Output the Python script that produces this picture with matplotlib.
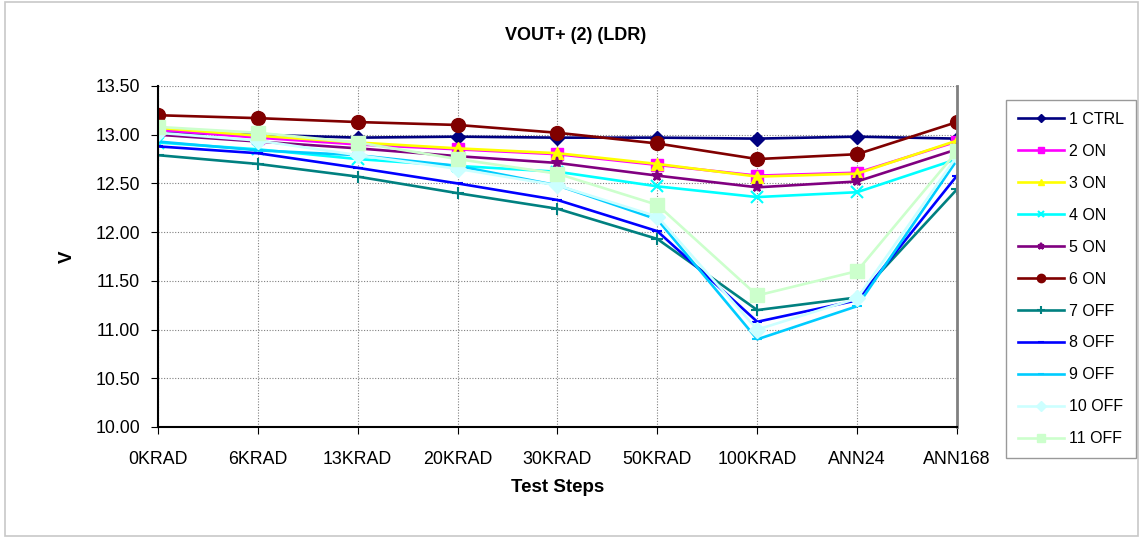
import matplotlib
matplotlib.use("Agg")
import matplotlib.pyplot as plt
from matplotlib.patches import Rectangle

plt.rcParams['font.family'] = ['Liberation Sans', 'DejaVu Sans']

steps = ["0KRAD", "6KRAD", "13KRAD", "20KRAD", "30KRAD", "50KRAD", "100KRAD", "ANN24", "ANN168"]

ctrl1 = [13.02, 13.00, 12.97, 12.98, 12.97, 12.97, 12.96, 12.98, 12.96]
on2 = [13.05, 12.97, 12.90, 12.85, 12.80, 12.69, 12.58, 12.61, 12.93]
on3 = [13.07, 12.99, 12.92, 12.86, 12.81, 12.70, 12.57, 12.60, 12.94]
on4 = [12.92, 12.85, 12.75, 12.68, 12.62, 12.47, 12.36, 12.41, 12.75]
on5 = [13.00, 12.93, 12.86, 12.78, 12.71, 12.58, 12.46, 12.52, 12.85]
on6 = [13.20, 13.17, 13.13, 13.10, 13.02, 12.91, 12.75, 12.80, 13.13]
off7 = [12.79, 12.70, 12.57, 12.40, 12.24, 11.93, 11.20, 11.33, 12.44]
off8 = [12.88, 12.81, 12.66, 12.50, 12.33, 12.01, 11.08, 11.30, 12.58]
off9 = [12.93, 12.84, 12.79, 12.68, 12.48, 12.13, 10.90, 11.24, 12.74]
off10 = [13.02, 12.94, 12.79, 12.65, 12.48, 12.16, 11.00, 11.32, 12.78]
off11 = [13.08, 13.02, 12.92, 12.75, 12.60, 12.28, 11.35, 11.60, 12.83]

series = [
    ("1 CTRL", ctrl1, "#000080", "D", 7),
    ("2 ON", on2, "#FF00FF", "s", 8),
    ("3 ON", on3, "#FFFF00", "^", 8),
    ("4 ON", on4, "#00FFFF", "x", 8),
    ("5 ON", on5, "#800080", "*", 8),
    ("6 ON", on6, "#800000", "o", 10),
    ("7 OFF", off7, "#008080", "+", 9),
    ("8 OFF", off8, "#0000FF", "_", 7),
    ("9 OFF", off9, "#00CCFF", "_", 7),
    ("10 OFF", off10, "#CCFFFF", "D", 8),
    ("11 OFF", off11, "#CCFFCC", "s", 10),
]

fig = plt.figure(figsize=(11.4, 5.38), dpi=100)
fig.patches.append(Rectangle((0.004, 0.004), 0.994, 0.993, transform=fig.transFigure,
                             fill=False, edgecolor="#C8C8C8", linewidth=1.2))

ax = fig.add_axes([158/1140, 1-427/538, (957-158)/1140, (427-86)/538])
x = list(range(len(steps)))
for name, vals, col, mk, ms in series:
    mew = 1.5 if mk in ("x", "+", "*", "_") else 1
    ax.plot(x, vals, color=col, marker=mk, markersize=ms, linewidth=1.9,
            markeredgecolor=col, markerfacecolor=col, markeredgewidth=mew, label=name)

ax.set_xlim(0, len(steps)-1)
ax.set_ylim(10.0, 13.5)
ax.set_yticks([10.0 + 0.5*i for i in range(8)])
ax.set_yticklabels([f"{10.0 + 0.5*i:.2f}" for i in range(8)])
ax.set_xticks(x)
ax.set_xticklabels(steps)
ax.tick_params(axis='both', labelsize=12.8, direction='out', length=5, color='black')
ax.tick_params(axis='x', pad=12)
ax.tick_params(axis='y', pad=8)
ax.grid(True, color='#808080', linestyle=(0, (1, 1.5)), linewidth=0.8)
ax.set_axisbelow(True)
ax.spines['top'].set_visible(False)
ax.spines['right'].set_color('#808080')
ax.spines['right'].set_linewidth(2)
ax.spines['left'].set_linewidth(1.5)
ax.spines['bottom'].set_linewidth(1.5)

ax.set_xlabel("Test Steps", fontsize=13.5, fontweight='bold', labelpad=8)
ax.set_ylabel("V", fontsize=13.5, fontweight='bold', labelpad=14)
fig.text(0.505, 1-35/538, "VOUT+ (2) (LDR)", ha='center', va='center', fontsize=13, fontweight='bold')

handles, labels = ax.get_legend_handles_labels()
leg = fig.legend(handles, labels, loc='upper left', bbox_to_anchor=(1006/1140, 1-100/538),
                 borderaxespad=0, frameon=True, fancybox=False, edgecolor='#808080', fontsize=11.5,
                 labelspacing=1.06, handlelength=2.9, handletextpad=0.3, borderpad=0.75,
                 markerscale=0.6)
leg.get_frame().set_linewidth(1)

fig.savefig("out.png", dpi=100)
